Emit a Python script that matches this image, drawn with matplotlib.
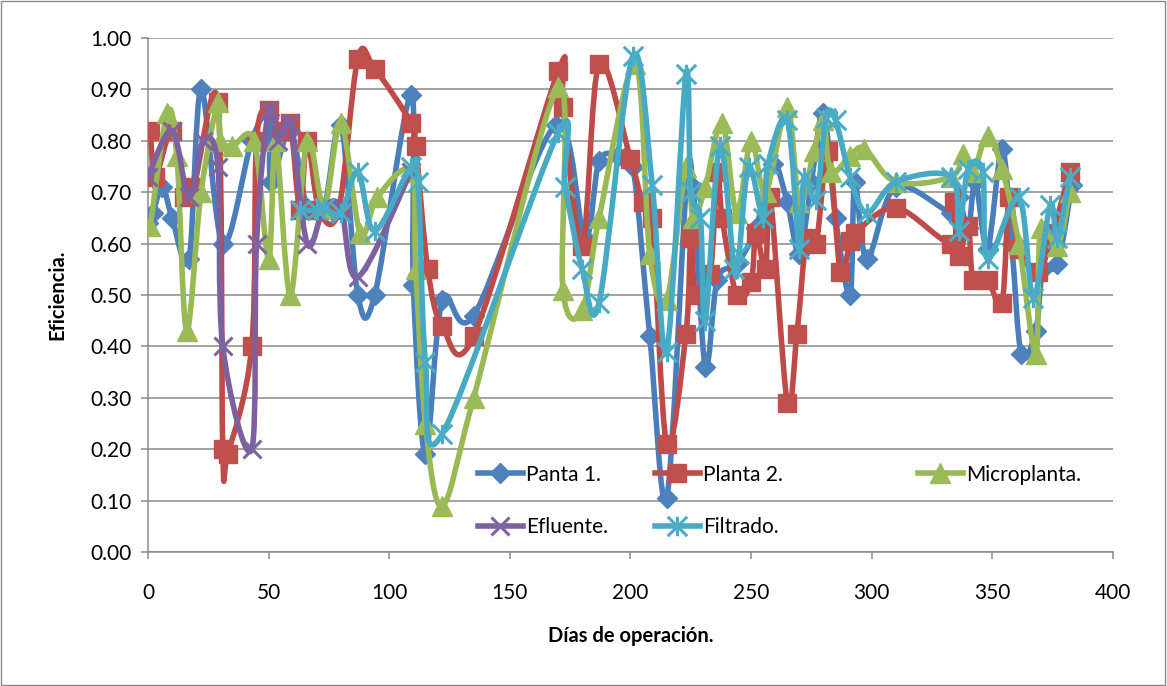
import numpy as np
import matplotlib
matplotlib.use("Agg")
import matplotlib.pyplot as plt
from matplotlib.path import Path
from matplotlib.patches import PathPatch, Rectangle
from matplotlib.lines import Line2D

plt.rcParams['font.family'] = ['Lato', 'DejaVu Sans']

# Panta 1.
p1_dias = [0, 2, 6, 10, 17, 22, 31, 43, 50, 51, 59, 66, 73, 80, 87, 94, 109, 110, 115, 122,
           135, 169, 181, 187, 195, 201, 208, 215, 223, 226, 231, 236, 244, 252, 259, 265, 270, 275, 280, 285,
           291, 293, 298, 310, 333, 336, 340, 343, 348, 354, 358, 362, 368, 371, 377, 383]
p1_ef = [0.64, 0.66, 0.71, 0.65, 0.57, 0.90, 0.60, 0.80, 0.85, 0.72, 0.82, 0.67, 0.67, 0.83, 0.50, 0.50, 0.89, 0.52, 0.19, 0.49,
         0.46, 0.83, 0.61, 0.76, 0.77, 0.75, 0.42, 0.105, 0.70, 0.71, 0.36, 0.53, 0.56, 0.63, 0.755, 0.68, 0.58, 0.72, 0.855, 0.65,
         0.50, 0.72, 0.57, 0.71, 0.66, 0.69, 0.63, 0.72, 0.59, 0.785, 0.60, 0.385, 0.43, 0.55, 0.56, 0.715]

# Planta 2.
p2_dias = [1, 3, 10, 15, 19, 29, 31, 33, 43, 45, 50, 55, 59, 63, 66, 71, 79, 87, 94, 109,
           111, 116, 122, 135, 170, 172, 180, 187, 200, 205, 209, 215, 223, 225, 227, 233, 236, 238, 244, 250,
           252, 256, 258, 265, 269, 273, 277, 282, 287, 291, 293, 310, 333, 334, 336, 340, 342, 348, 354, 357,
           361, 369, 375, 382]
p2_ef = [0.82, 0.73, 0.82, 0.69, 0.71, 0.875, 0.20, 0.19, 0.40, 0.80, 0.86, 0.82, 0.835, 0.665, 0.80, 0.665, 0.665, 0.96, 0.94, 0.835,
         0.79, 0.55, 0.44, 0.42, 0.935, 0.865, 0.595, 0.95, 0.765, 0.68, 0.65, 0.21, 0.425, 0.61, 0.50, 0.54, 0.74, 0.65, 0.50, 0.525,
         0.62, 0.55, 0.69, 0.29, 0.425, 0.61, 0.60, 0.78, 0.545, 0.605, 0.62, 0.67, 0.60, 0.68, 0.575, 0.635, 0.53, 0.53, 0.485, 0.69,
         0.59, 0.545, 0.62, 0.74]

# Microplanta.
mp_dias = [1, 8, 12, 16, 22, 29, 30, 35, 44, 50, 53, 59, 66, 73, 80, 88, 95, 109, 111, 115,
           122, 135, 170, 172, 180, 187, 202, 208, 215, 223, 226, 231, 238, 244, 250, 256, 265, 270, 276, 280,
           283, 291, 297, 310, 333, 338, 342, 348, 354, 361, 368, 370, 377, 382]
mp_ef = [0.635, 0.855, 0.77, 0.43, 0.70, 0.875, 0.80, 0.79, 0.80, 0.57, 0.80, 0.50, 0.80, 0.67, 0.835, 0.62, 0.69, 0.74, 0.55, 0.25,
         0.09, 0.30, 0.905, 0.51, 0.47, 0.65, 0.95, 0.58, 0.49, 0.75, 0.65, 0.71, 0.835, 0.66, 0.80, 0.70, 0.865, 0.68, 0.78, 0.84,
         0.74, 0.77, 0.785, 0.72, 0.73, 0.775, 0.74, 0.81, 0.745, 0.60, 0.385, 0.63, 0.595, 0.70]

# Efluente.
ef_dias = [0, 10, 17, 23, 29, 31, 43, 45, 50, 54, 59, 66, 73, 80, 87, 109]
ef_ef = [0.73, 0.82, 0.69, 0.80, 0.75, 0.40, 0.20, 0.60, 0.86, 0.80, 0.835, 0.60, 0.67, 0.67, 0.535, 0.74]

# Filtrado.
fi_dias = [63, 70, 73, 80, 87, 94, 109, 112, 115, 122,
           170, 173, 180, 187, 201, 209, 215, 223, 225, 229, 231, 237, 243, 245, 249, 255, 257, 265, 270, 272,
           277, 281, 285, 291, 298, 310, 333, 336, 340, 346, 348, 361, 367, 374, 377, 382]
fi_ef = [0.665, 0.665, 0.67, 0.66, 0.74, 0.625, 0.75, 0.72, 0.37, 0.23,
         0.815, 0.71, 0.55, 0.485, 0.965, 0.715, 0.39, 0.93, 0.70, 0.65, 0.45, 0.79, 0.55, 0.58, 0.75, 0.65, 0.755, 0.84, 0.59, 0.73,
         0.685, 0.845, 0.84, 0.73, 0.66, 0.72, 0.73, 0.625, 0.745, 0.74, 0.57, 0.69, 0.495, 0.675, 0.61, 0.73]

# asterisco: x + linea vertical
star = Path([(0, -1), (0, 1), (-1, -1), (1, 1), (-1, 1), (1, -1)],
            [Path.MOVETO, Path.LINETO, Path.MOVETO, Path.LINETO, Path.MOVETO, Path.LINETO])

series = [
    ("Panta 1.", p1_dias, p1_ef, "#4A7EBB", "#4F81BD", "D", 10),
    ("Planta 2.", p2_dias, p2_ef, "#BE4B48", "#C0504D", "s", 13),
    ("Microplanta.", mp_dias, mp_ef, "#98B954", "#9BBB59", "^", 14),
    ("Efluente.", ef_dias, ef_ef, "#7D60A0", "#8064A2", "x", 13),
    ("Filtrado.", fi_dias, fi_ef, "#46AAC5", "#4BACC6", star, 14),
]


def smooth_path(x, y):
    # curva suavizada tipo Catmull-Rom pasando por cada punto
    pts = np.column_stack([x, y]).astype(float)
    n = len(pts)
    verts = [pts[0]]
    codes = [Path.MOVETO]
    for i in range(n - 1):
        p0 = pts[i - 1] if i > 0 else pts[i]
        p1 = pts[i]
        p2 = pts[i + 1]
        p3 = pts[i + 2] if i + 2 < n else pts[i + 1]
        verts += [p1 + (p2 - p0) / 6, p2 - (p3 - p1) / 6, p2]
        codes += [Path.CURVE4] * 3
    return Path(verts, codes)


fig = plt.figure(figsize=(11.67, 6.86), dpi=100)
ax = fig.add_axes([0.1268, 0.1953, 0.9537 - 0.1268, 0.9446 - 0.1953])

lw = 4.0
handles = {}
for k, (name, x, y, lc, mc, mk, ms) in enumerate(series):
    z = 3 + k
    ax.add_patch(PathPatch(smooth_path(x, y), facecolor="none", edgecolor=lc, lw=lw,
                           capstyle="round", joinstyle="round", zorder=z))
    filled = mk != "x" and mk is not star
    mew = 2.2 if not filled else 1.0
    ax.plot(x, y, linestyle="none", marker=mk, markersize=ms, color=mc,
            markeredgecolor=mc, markeredgewidth=mew, zorder=z + 0.5)
    handles[name] = Line2D([], [], color=lc, lw=lw, marker=mk, markersize=ms,
                           markerfacecolor=mc, markeredgecolor=mc, markeredgewidth=mew)

ax.set_xlim(0, 400)
ax.set_ylim(0, 1.0)
ax.set_xticks(np.arange(0, 401, 50))
ax.set_yticks(np.arange(0, 1.01, 0.1))
ax.yaxis.set_major_formatter(matplotlib.ticker.FormatStrFormatter("%.2f"))
ax.grid(axis="y", color="#8a8a8a", lw=1.1)
ax.set_axisbelow(True)
for s in ("top", "right"):
    ax.spines[s].set_visible(False)
for s in ("left", "bottom"):
    ax.spines[s].set_color("#8a8a8a")
    ax.spines[s].set_linewidth(1.1)
ax.tick_params(axis="both", colors="#8a8a8a", labelcolor="black", labelsize=15, length=5, width=1.1)
ax.tick_params(axis="x", pad=17)
ax.tick_params(axis="y", pad=7)

ax.set_ylabel("Eficiencia.", fontsize=14.5, fontweight="bold", labelpad=16)
ax.set_xlabel("Días de operación.", fontsize=14.5, fontweight="bold", labelpad=17)

# leyenda en tres columnas
cols = [(0.4096, ["Panta 1.", "Efluente."]),
        (0.5613, ["Planta 2.", "Filtrado."]),
        (0.7866, ["Microplanta."])]
for xf, names in cols:
    leg = fig.legend([handles[n] for n in names], names, loc="upper left",
                     bbox_to_anchor=(xf, 0.3225), frameon=False, fontsize=15,
                     handlelength=2.15, handletextpad=0.15, labelspacing=1.55,
                     borderpad=0, borderaxespad=0, numpoints=1)

fig.patches.append(Rectangle((0.001, 0.002), 0.997, 0.996, transform=fig.transFigure,
                             fill=False, edgecolor="#8a8a8a", lw=1.0))

fig.savefig("out.png", dpi=100)
